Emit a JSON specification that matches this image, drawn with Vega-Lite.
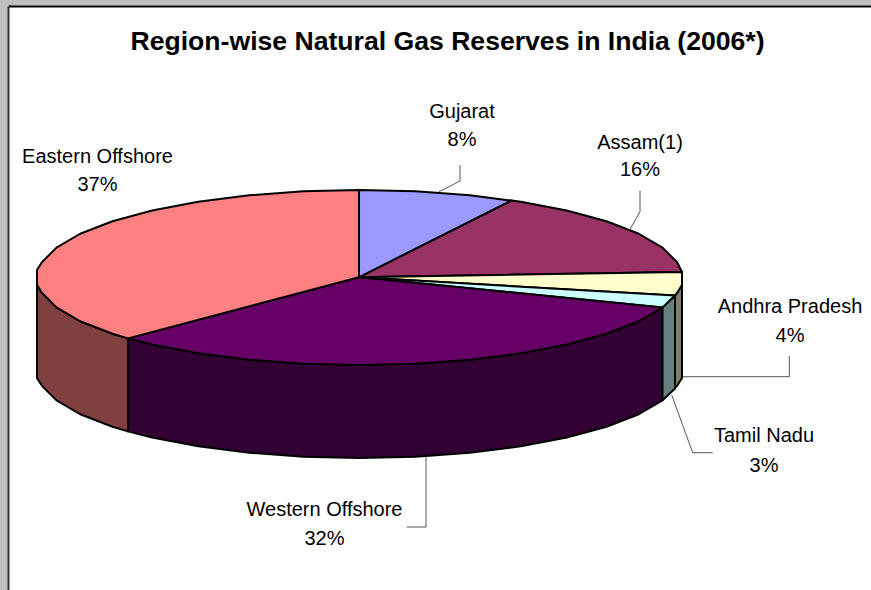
{
  "$schema": "https://vega.github.io/schema/vega-lite/v6.json",
  "width": 863,
  "height": 584,
  "autosize": {"type": "none"},
  "padding": {"left": 8, "top": 6, "right": 0, "bottom": 0},
  "background": "#c0c0c0",
  "view": {"fill": "#ffffff", "stroke": null},
  "title": {"text": "Region-wise Natural Gas Reserves in India (2006*)", "anchor": "middle", "frame": "group", "offset": -50, "font": "Liberation Sans", "fontSize": 26.6, "fontWeight": "bold", "color": "#000000", "dx": 8},
  "config": {"text": {"font": "Liberation Sans"}},
  "datasets": {
    "faces": [
      {"face":"Eastern side","seq":1,"x":37,"y":285},{"face":"Eastern side","seq":2,"x":41.9,"y":292.7},{"face":"Eastern side","seq":3,"x":56.5,"y":307.4},{"face":"Eastern side","seq":4,"x":80.2,"y":321.25},{"face":"Eastern side","seq":5,"x":112.5,"y":333.7},{"face":"Eastern side","seq":6,"x":128,"y":338.4},{"face":"Eastern side","seq":7,"x":128,"y":431.4},{"face":"Eastern side","seq":8,"x":112.5,"y":426.7},{"face":"Eastern side","seq":9,"x":80.2,"y":414.25},{"face":"Eastern side","seq":10,"x":56.5,"y":400.4},{"face":"Eastern side","seq":11,"x":41.9,"y":385.7},{"face":"Eastern side","seq":12,"x":37,"y":378},{"face":"Eastern side","seq":13,"x":37,"y":285},

      {"face":"Western side","seq":1,"x":128,"y":338.4},{"face":"Western side","seq":2,"x":152.2,"y":344.5},{"face":"Western side","seq":3,"x":198.25,"y":353.3},{"face":"Western side","seq":4,"x":249.2,"y":359.7},{"face":"Western side","seq":5,"x":303.5,"y":363.7},{"face":"Western side","seq":6,"x":359.5,"y":365},{"face":"Western side","seq":7,"x":415.5,"y":363.7},{"face":"Western side","seq":8,"x":469.8,"y":359.7},{"face":"Western side","seq":9,"x":520.75,"y":353.3},{"face":"Western side","seq":10,"x":566.8,"y":344.5},{"face":"Western side","seq":11,"x":606.5,"y":333.7},{"face":"Western side","seq":12,"x":638.8,"y":321.25},{"face":"Western side","seq":13,"x":662.5,"y":307.4},{"face":"Western side","seq":14,"x":662.5,"y":400.4},{"face":"Western side","seq":15,"x":638.8,"y":414.25},{"face":"Western side","seq":16,"x":606.5,"y":426.7},{"face":"Western side","seq":17,"x":566.8,"y":437.5},{"face":"Western side","seq":18,"x":520.75,"y":446.3},{"face":"Western side","seq":19,"x":469.8,"y":452.7},{"face":"Western side","seq":20,"x":415.5,"y":456.7},{"face":"Western side","seq":21,"x":359.5,"y":458},{"face":"Western side","seq":22,"x":303.5,"y":456.7},{"face":"Western side","seq":23,"x":249.2,"y":452.7},{"face":"Western side","seq":24,"x":198.25,"y":446.3},{"face":"Western side","seq":25,"x":152.2,"y":437.5},{"face":"Western side","seq":26,"x":128,"y":431.4},{"face":"Western side","seq":27,"x":128,"y":338.4},

      {"face":"Tamil side","seq":1,"x":662.5,"y":307.4},{"face":"Tamil side","seq":2,"x":675,"y":295.5},{"face":"Tamil side","seq":3,"x":675,"y":388.5},{"face":"Tamil side","seq":4,"x":662.5,"y":400.4},{"face":"Tamil side","seq":5,"x":662.5,"y":307.4},

      {"face":"Andhra side","seq":1,"x":675,"y":295.5},{"face":"Andhra side","seq":2,"x":677.1,"y":292.7},{"face":"Andhra side","seq":3,"x":682,"y":285},{"face":"Andhra side","seq":4,"x":682,"y":378},{"face":"Andhra side","seq":5,"x":677.1,"y":385.7},{"face":"Andhra side","seq":6,"x":675,"y":388.5},{"face":"Andhra side","seq":7,"x":675,"y":295.5},

      {"face":"Gujarat","seq":1,"x":359,"y":277.3},{"face":"Gujarat","seq":2,"x":359,"y":190},{"face":"Gujarat","seq":3,"x":415.5,"y":191.3},{"face":"Gujarat","seq":4,"x":469.8,"y":195.3},{"face":"Gujarat","seq":5,"x":511.7,"y":200.6},{"face":"Gujarat","seq":6,"x":359,"y":277.3},

      {"face":"Assam(1)","seq":1,"x":359,"y":277.3},{"face":"Assam(1)","seq":2,"x":511.7,"y":200.6},{"face":"Assam(1)","seq":3,"x":520.75,"y":201.7},{"face":"Assam(1)","seq":4,"x":566.8,"y":210.5},{"face":"Assam(1)","seq":5,"x":606.5,"y":221.3},{"face":"Assam(1)","seq":6,"x":638.8,"y":233.75},{"face":"Assam(1)","seq":7,"x":662.5,"y":247.6},{"face":"Assam(1)","seq":8,"x":677.1,"y":262.3},{"face":"Assam(1)","seq":9,"x":682,"y":272},{"face":"Assam(1)","seq":10,"x":359,"y":277.3},

      {"face":"Andhra Pradesh","seq":1,"x":359,"y":277.3},{"face":"Andhra Pradesh","seq":2,"x":682,"y":272},{"face":"Andhra Pradesh","seq":3,"x":682,"y":285},{"face":"Andhra Pradesh","seq":4,"x":677.1,"y":292.7},{"face":"Andhra Pradesh","seq":5,"x":675,"y":295.5},{"face":"Andhra Pradesh","seq":6,"x":359,"y":277.3},

      {"face":"Tamil Nadu","seq":1,"x":359,"y":277.3},{"face":"Tamil Nadu","seq":2,"x":675,"y":295.5},{"face":"Tamil Nadu","seq":3,"x":662.5,"y":307.4},{"face":"Tamil Nadu","seq":4,"x":359,"y":277.3},

      {"face":"Western Offshore","seq":1,"x":359,"y":277.3},{"face":"Western Offshore","seq":2,"x":662.5,"y":307.4},{"face":"Western Offshore","seq":3,"x":638.8,"y":321.25},{"face":"Western Offshore","seq":4,"x":606.5,"y":333.7},{"face":"Western Offshore","seq":5,"x":566.8,"y":344.5},{"face":"Western Offshore","seq":6,"x":520.75,"y":353.3},{"face":"Western Offshore","seq":7,"x":469.8,"y":359.7},{"face":"Western Offshore","seq":8,"x":415.5,"y":363.7},{"face":"Western Offshore","seq":9,"x":359.5,"y":365},{"face":"Western Offshore","seq":10,"x":303.5,"y":363.7},{"face":"Western Offshore","seq":11,"x":249.2,"y":359.7},{"face":"Western Offshore","seq":12,"x":198.25,"y":353.3},{"face":"Western Offshore","seq":13,"x":152.2,"y":344.5},{"face":"Western Offshore","seq":14,"x":128,"y":338.4},{"face":"Western Offshore","seq":15,"x":359,"y":277.3},

      {"face":"Eastern Offshore","seq":1,"x":359,"y":277.3},{"face":"Eastern Offshore","seq":2,"x":128,"y":338.4},{"face":"Eastern Offshore","seq":3,"x":112.5,"y":333.7},{"face":"Eastern Offshore","seq":4,"x":80.2,"y":321.25},{"face":"Eastern Offshore","seq":5,"x":56.5,"y":307.4},{"face":"Eastern Offshore","seq":6,"x":41.9,"y":292.7},{"face":"Eastern Offshore","seq":7,"x":37,"y":285},{"face":"Eastern Offshore","seq":8,"x":37,"y":270},{"face":"Eastern Offshore","seq":9,"x":41.9,"y":262.3},{"face":"Eastern Offshore","seq":10,"x":56.5,"y":247.6},{"face":"Eastern Offshore","seq":11,"x":80.2,"y":233.75},{"face":"Eastern Offshore","seq":12,"x":112.5,"y":221.3},{"face":"Eastern Offshore","seq":13,"x":152.2,"y":210.5},{"face":"Eastern Offshore","seq":14,"x":198.25,"y":201.7},{"face":"Eastern Offshore","seq":15,"x":249.2,"y":195.3},{"face":"Eastern Offshore","seq":16,"x":303.5,"y":191.3},{"face":"Eastern Offshore","seq":17,"x":359,"y":190},{"face":"Eastern Offshore","seq":18,"x":359,"y":277.3}
    ],
    "leaders": [
      {"region":"Gujarat","seq":1,"x":460,"y":165},{"region":"Gujarat","seq":2,"x":460,"y":181},{"region":"Gujarat","seq":3,"x":439,"y":191.7},
      {"region":"Assam(1)","seq":1,"x":640,"y":190.7},{"region":"Assam(1)","seq":2,"x":640,"y":211.7},{"region":"Assam(1)","seq":3,"x":630,"y":229.3},
      {"region":"Andhra Pradesh","seq":1,"x":789.3,"y":356},{"region":"Andhra Pradesh","seq":2,"x":789.3,"y":376.7},{"region":"Andhra Pradesh","seq":3,"x":682,"y":376.7},
      {"region":"Tamil Nadu","seq":1,"x":712.7,"y":452.7},{"region":"Tamil Nadu","seq":2,"x":692.7,"y":452.7},{"region":"Tamil Nadu","seq":3,"x":671.7,"y":395},
      {"region":"Western Offshore","seq":1,"x":406.7,"y":527},{"region":"Western Offshore","seq":2,"x":426,"y":527},{"region":"Western Offshore","seq":3,"x":426,"y":456.7}
    ],
    "labels": [
      {"region":"Gujarat","share":0.08,"x":462,"nameY":112,"shareY":140},
      {"region":"Assam(1)","share":0.16,"x":640,"nameY":143,"shareY":170},
      {"region":"Andhra Pradesh","share":0.04,"x":790,"nameY":306.7,"shareY":336},
      {"region":"Tamil Nadu","share":0.03,"x":764,"nameY":435.7,"shareY":465.7},
      {"region":"Western Offshore","share":0.32,"x":324.5,"nameY":510,"shareY":539},
      {"region":"Eastern Offshore","share":0.37,"x":97.5,"nameY":157,"shareY":185}
    ]
  },
  "encoding": {
    "x": {"field": "x", "type": "quantitative", "scale": {"domain": [8, 871]}, "axis": {"orient": "top", "title": null, "labels": false, "ticks": false, "grid": false, "domainColor": "#000000", "domainWidth": 2}},
    "y": {"field": "y", "type": "quantitative", "scale": {"domain": [590, 6]}, "axis": {"orient": "left", "title": null, "labels": false, "ticks": false, "grid": false, "domainColor": "#333333", "domainWidth": 2}}
  },
  "layer": [
    {
      "data": {"name": "leaders"},
      "mark": {"type": "line", "stroke": "#555555", "strokeWidth": 1, "clip": true},
      "encoding": {
        "detail": {"field": "region"},
        "order": {"field": "seq", "type": "quantitative"}
      }
    },
    {
      "data": {"name": "faces"},
      "mark": {"type": "line", "stroke": "#000000", "strokeWidth": 2, "strokeJoin": "round"},
      "encoding": {
        "fill": {
          "field": "face",
          "type": "nominal",
          "legend": null,
          "sort": null,
          "scale": {
            "domain": ["Eastern side", "Western side", "Tamil side", "Andhra side", "Gujarat", "Assam(1)", "Andhra Pradesh", "Tamil Nadu", "Western Offshore", "Eastern Offshore"],
            "range": ["#804040", "#330033", "#668080", "#808066", "#9999ff", "#993366", "#ffffcc", "#ccffff", "#660066", "#ff8080"]
          }
        },
        "order": {"field": "seq", "type": "quantitative"}
      }
    },
    {
      "data": {"name": "labels"},
      "mark": {"type": "text", "fontSize": 20, "color": "#000000", "baseline": "middle", "align": "center"},
      "encoding": {
        "y": {"field": "nameY", "type": "quantitative"},
        "text": {"field": "region", "type": "nominal"}
      }
    },
    {
      "data": {"name": "labels"},
      "mark": {"type": "text", "fontSize": 20, "color": "#000000", "baseline": "middle", "align": "center"},
      "encoding": {
        "y": {"field": "shareY", "type": "quantitative"},
        "text": {"field": "share", "type": "quantitative", "format": ".0%"}
      }
    }
  ]
}
